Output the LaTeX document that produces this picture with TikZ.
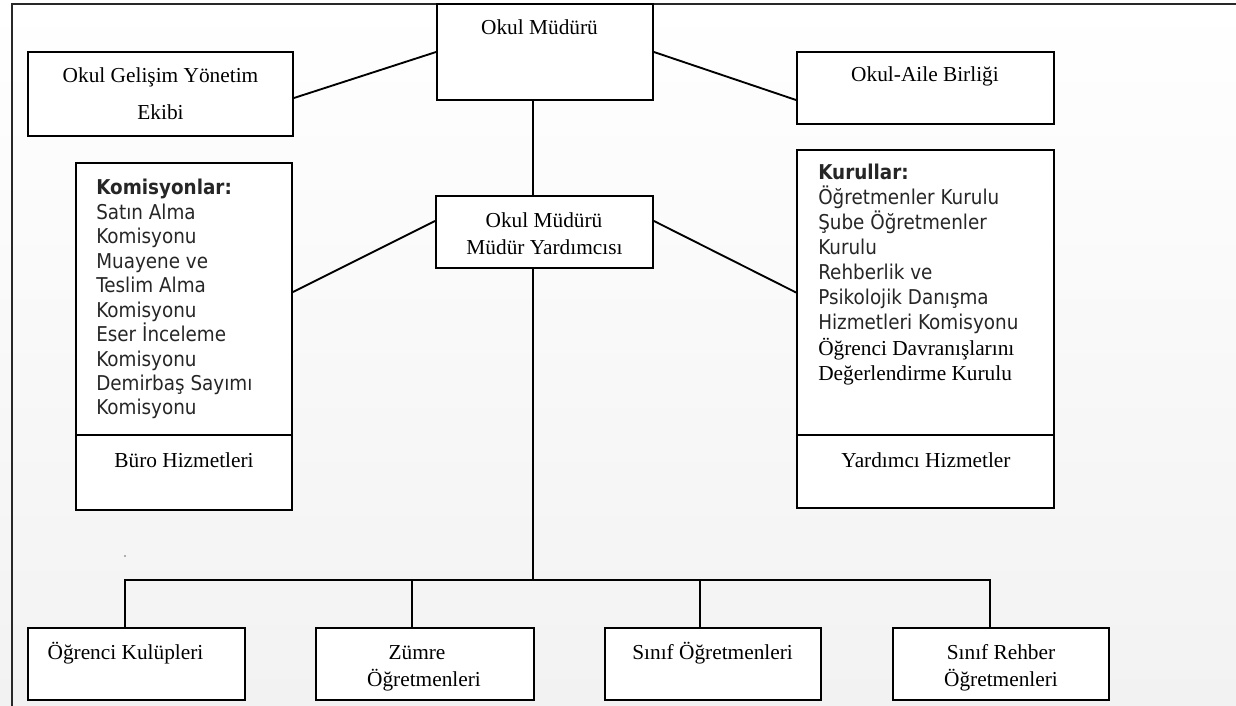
\documentclass[tikz,border=0pt]{standalone}
\usepackage{fontspec}
\setmainfont{Liberation Serif}
\newfontfamily\tahoma[FakeStretch=0.9]{DejaVu Sans}
\definecolor{bgbot}{RGB}{242,242,242}
\definecolor{framecol}{RGB}{40,40,40}
\tikzset{
  box/.style={draw=black, fill=white, line width=1.4pt, inner sep=0pt, rectangle},
  conn/.style={draw=black, line width=1.4pt},
  serif/.style={font=\fontsize{16}{19}\selectfont, inner sep=0pt, anchor=base},
  sans/.style={font=\tahoma\fontsize{15.3}{18}\selectfont, text=black!85, inner sep=0pt, anchor=base west},
}
\begin{document}
\begin{tikzpicture}[x=0.75pt,y=-0.75pt]
\useasboundingbox (0,0) rectangle (1236,706);
\shade[top color=white, bottom color=bgbot] (0,0) rectangle (1236,706);
\draw[line width=1.8pt, framecol] (12,706) -- (12,4) -- (1236,4);

% boxes
\node[box, minimum width=162pt, minimum height=72pt] (mudur) at (545,52) {};
\node[box, minimum width=198.75pt, minimum height=63pt] (gelisim) at (160.5,94) {};
\node[box, minimum width=192.75pt, minimum height=54pt] (aile) at (925.5,88) {};
\node[box, minimum width=162.75pt, minimum height=54pt] (yard) at (544.5,232) {};
\node[box, minimum width=162pt, minimum height=204pt] (komis) at (184,299) {};
\node[box, minimum width=162pt, minimum height=56.25pt] (buro) at (184,472.5) {};
\node[box, minimum width=192.75pt, minimum height=213.75pt] (kurul) at (925.5,292.5) {};
\node[box, minimum width=192.75pt, minimum height=54.75pt] (yhiz) at (925.5,471.5) {};
\node[box, minimum width=162.75pt, minimum height=54pt] (b1) at (136.5,664) {};
\node[box, minimum width=163.5pt, minimum height=54pt] (b2) at (425,664) {};
\node[box, minimum width=162pt, minimum height=54pt] (b3) at (713,664) {};
\node[box, minimum width=162pt, minimum height=54pt] (b4) at (1001,664) {};

% connectors
\coordinate (spine) at (533,0);
\coordinate (j1) at (125,580);
\coordinate (j2) at (412,580);
\coordinate (j3) at (700,580);
\coordinate (j4) at (990,580);
\draw[conn] ([yshift=-3pt]gelisim.east) -- (mudur.west);
\draw[conn] (mudur.east) -- ([yshift=-9pt]aile.west);
\draw[conn] (mudur.south -| spine) -- (yard.north -| spine);
\draw[conn] ([yshift=8.25pt]yard.west) -- ([yshift=5.25pt]komis.east);
\draw[conn] ([yshift=8.25pt]yard.east) -- (kurul.west);
\draw[conn] (yard.south -| spine) -- (spine |- j1);
\draw[conn] (b1.north -| j1) -- (j1) -- (j4) -- (b4.north -| j4);
\draw[conn] (j2) -- (b2.north -| j2);
\draw[conn] (j3) -- (b3.north -| j3);

% texts
\node[serif] (mudur-t) at (539.5,35) {Okul Müdürü};
\node[serif] (gelisim-t1) at (160.5,83) {Okul Gelişim Yönetim};
\node[serif] (gelisim-t2) at (160.5,120) {Ekibi};
\node[serif] (aile-t) at (925,82) {Okul-Aile Birliği};
\node[serif] (yard-t1) at (544,228) {Okul Müdürü};
\node[serif] (yard-t2) at (544.5,254) {Müdür Yardımcısı};
\node[serif] (buro-t) at (184,467) {Büro Hizmetleri};
\node[serif] (yhiz-t) at (926,467) {Yardımcı Hizmetler};
\node[serif] (b1-t) at (125.5,659) {Öğrenci Kulüpleri};
\node[serif] (b2-t1) at (417,659) {Zümre};
\node[serif] (b2-t2) at (424,686) {Öğretmenleri};
\node[serif] (b3-t) at (712.6,659) {Sınıf Öğretmenleri};
\node[serif] (b4-t1) at (1001,659) {Sınıf Rehber};
\node[serif] (b4-t2) at (1001,686) {Öğretmenleri};

\node[sans] (komis-h) at (96,195) {\bfseries Komisyonlar:};
\foreach \t [count=\i] in {Satın Alma,Komisyonu,Muayene ve,Teslim Alma,Komisyonu,Eser İnceleme,Komisyonu,Demirbaş Sayımı,Komisyonu}
  \node[sans] (komis-\i) at (96,{195+24.44*\i}) {\t};

\node[sans] (kurul-h) at (818,180) {\bfseries Kurullar:};
\foreach \t [count=\i] in {Öğretmenler Kurulu,Şube Öğretmenler,Kurulu,Rehberlik ve,Psikolojik Danışma,Hizmetleri Komisyonu}
  \node[sans] (kurul-\i) at (818,{180+24.9*\i}) {\t};
\node[serif, anchor=base west] (kurul-7) at (818,355) {Öğrenci Davranışlarını};
\node[serif, anchor=base west] (kurul-8) at (818,380) {Değerlendirme Kurulu};

\fill[black!60] (125,556) circle (0.6pt);
\end{tikzpicture}
\end{document}
